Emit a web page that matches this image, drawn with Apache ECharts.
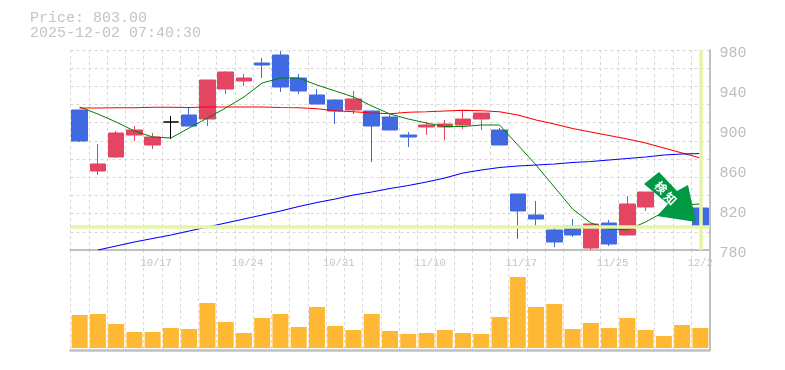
<!DOCTYPE html>
<html><head><meta charset="utf-8">
<style>html,body{margin:0;padding:0;background:#fff}#c{width:785px;height:370px}</style>
<script src="https://cdn.jsdelivr.net/npm/echarts@6/dist/echarts.min.js"></script>
</head><body><div id="c"></div>
<script>
const categories = ['10/10','10/14','10/15','10/16','10/17','10/20','10/21','10/22','10/23','10/24','10/27','10/28','10/29','10/30','10/31','11/4','11/5','11/6','11/7','11/10','11/11','11/12','11/13','11/14','11/17','11/18','11/19','11/20','11/21','11/25','11/26','11/27','11/28','12/1','12/2'];
const opens  = [920,859,873,895,885,908,915,911,941,949,967,975,952,935,930,920,919,913,895,903,903,905,911,900,836,815,800,804,782,807,795,823,838,832,822];
const closes = [889,866,897,900,893,908,904,950,958,952,965,943,939,926,919,931,904,900,893,905,906,911,917,885,819,811,788,795,806,786,826,838,845,822,803];
const highs  = [920,886,899,904,897,914,922,950,959,956,972,979,956,941,931,939,919,915,898,908,910,920,917,902,836,829,803,811,806,810,834,838,845,836,826];
const lows   = [888,855,872,889,881,891,904,904,936,944,952,938,936,926,906,916,868,900,883,895,890,901,900,885,791,802,783,793,780,784,795,819,838,820,798];
const volumes = [33,34,24,16,16,20,19,45,26,15,30,34,21,41,22,18,34,17,14,15,18,15,14,31,71,41,44,19,25,20,30,18,12,23,20];
const maShort = [923,916,908,899,893,892,902,912,922,933,947,952,952,945,939,933,924,916,911,907,903.5,903.5,905,905,885,865,843,821,807,801,800,808,818,825,826];
const maMid = [922,922,922.3,922.3,922.7,922.7,922.5,923,923,923,923,922.5,922.3,921.3,919.3,918.3,917,916.3,917.7,918.3,919,919.7,919.3,918.3,915,910,906,901.5,898,894.5,891,887,882,877,872];
const maLong = [null,780,784,788,791.5,795,799,803,807,811,815,819,823.5,827.5,831,835,838,841.5,844.5,848,852,857,860,862.5,864,865,866,867.5,868.5,870,871.5,873,875,876,876.5];
const lastPrice = 803;
const titleLines = ['Price: 803.00','2025-12-02 07:40:30'];
const signalLabel = '検知';
const labelledDates = ['10/17','10/24','10/31','11/10','11/17','11/25','12/2'];

const gray='#c0c0c0', dash='#d8d8d8', mono='"Liberation Mono","DejaVu Sans Mono",monospace';
const split={show:true,interval:0,lineStyle:{color:dash,type:[3,3],width:1}};
const lastIdx=categories.length-1;
const chart=echarts.init(document.getElementById('c'),null,{renderer:'canvas'});
chart.setOption({
  animation:false,
  backgroundColor:'#fff',
  grid:[
    {left:70.5,right:75.5,top:50,height:200,show:false},
    {left:70.5,right:75.5,top:250,height:100,show:false},
    {left:70.5,right:75.5,top:53,height:200,show:false}
  ],
  xAxis:[
    {type:'category',gridIndex:0,
     data:categories.map((v,i)=>i===lastIdx?{value:v,textStyle:{padding:[0,0,0,0]}}:v),
     boundaryGap:true,
     axisLine:{onZero:false,lineStyle:{color:gray,width:2}},axisTick:{show:false},splitLine:split,
     axisLabel:{interval:0,hideOverlap:false,formatter:v=>labelledDates.includes(v)?v:'',color:'#c4c4c4',fontFamily:mono,fontSize:10.5,margin:8,padding:[0,0,0,7]}},
    {type:'category',gridIndex:1,data:categories,boundaryGap:true,
     axisLine:{onZero:false,lineStyle:{color:gray,width:2.5}},axisTick:{show:false},splitLine:split,axisLabel:{show:false}},
    {type:'category',gridIndex:2,data:categories,show:false}
  ],
  yAxis:[
    {type:'value',gridIndex:0,position:'right',min:780,max:980,interval:40,
     axisLine:{show:true,lineStyle:{color:gray,width:2}},axisTick:{show:false},splitLine:{show:false},axisLabel:{show:false}},
    {type:'value',gridIndex:0,min:0,max:11,interval:1,show:true,axisLine:{show:false},axisTick:{show:false},axisLabel:{show:false},
     splitLine:{show:true,lineStyle:{color:dash,type:[3,3],width:1}}},
    {type:'value',gridIndex:1,position:'right',min:-2,max:98,show:true,axisLabel:{show:false},axisTick:{show:false},
     axisLine:{show:true,lineStyle:{color:gray,width:2}},splitLine:{show:false}},
    {type:'value',gridIndex:2,position:'right',min:780,max:980,interval:40,axisLine:{show:false},axisTick:{show:false},splitLine:{show:false},
     axisLabel:{color:'#bdbdbd',fontFamily:mono,fontSize:15,margin:10}}
  ],
  series:[
    {type:'line',xAxisIndex:0,yAxisIndex:0,data:[],silent:true,z:1,
     markLine:{silent:true,symbol:'none',label:{show:false},animation:false,lineStyle:{color:'#e4f5a6',width:3.5,type:'solid'},
       data:[{yAxis:lastPrice},{xAxis:categories[lastIdx]}]}},
    {type:'candlestick',xAxisIndex:0,yAxisIndex:0,z:3,barWidth:16,
     data:categories.map((c,i)=>[opens[i],closes[i],lows[i],highs[i]]),
     itemStyle:{color:'#e34563',color0:'#4169e1',borderColor:'#e34563',borderColor0:'#4169e1',borderColorDoji:'#000',borderWidth:1}},
    {name:'short',type:'line',xAxisIndex:0,yAxisIndex:0,data:maShort,symbol:'none',z:4,lineStyle:{color:'#008000',width:1}},
    {name:'mid',type:'line',xAxisIndex:0,yAxisIndex:0,data:maMid,symbol:'none',z:4,lineStyle:{color:'#ff0000',width:1.1}},
    {name:'long',type:'line',xAxisIndex:0,yAxisIndex:0,data:maLong,symbol:'none',z:4,lineStyle:{color:'#0000ff',width:1.1}},
    {type:'bar',xAxisIndex:1,yAxisIndex:2,data:volumes,barWidth:16,z:3,itemStyle:{color:'#ffb833'}}
  ],
  graphic:[
    {type:'text',left:30,top:11,style:{text:titleLines[0],fill:'#c4c4c4',font:'15px '+mono}},
    {type:'text',left:30,top:26,style:{text:titleLines[1],fill:'#c4c4c4',font:'15px '+mono}},
    {type:'polygon',z:50,shape:{points:[[644,184],[659,172],[677,191],[688,185],[696,222],[657,216],[668,204]]},style:{fill:'#009944'}},
    {type:'text',z:51,x:661,y:187.5,rotation:-Math.PI/4,style:{text:signalLabel[0],fill:'#fff',align:'center',verticalAlign:'middle',font:'bold 12px "Noto Sans CJK JP"'}},
    {type:'text',z:51,x:670.5,y:198.5,rotation:-Math.PI/4,style:{text:signalLabel[1],fill:'#fff',align:'center',verticalAlign:'middle',font:'bold 12px "Noto Sans CJK JP"'}}
  ]
});
</script></body></html>
